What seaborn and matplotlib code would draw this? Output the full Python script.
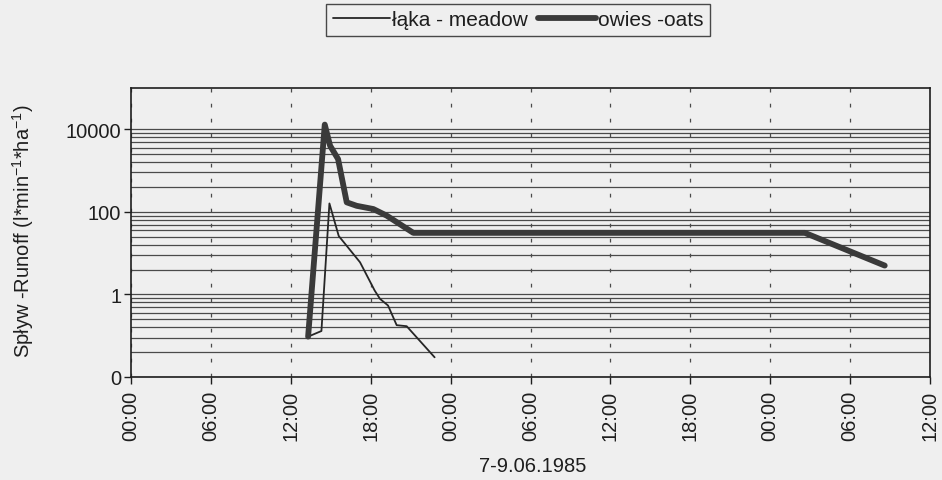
import matplotlib
matplotlib.use("Agg")
import matplotlib.pyplot as plt
import matplotlib.dates as mdates
from matplotlib.ticker import FixedLocator, FixedFormatter, NullFormatter
import numpy as np
import pandas as pd
import seaborn as sns

# Runoff after the storm of 7-9 June 1985 (hours from 7.06 00:00)
meadow_hours = [13.3, 14.3, 14.9, 15.6, 17.2, 18.3, 18.7, 19.3, 19.95, 20.7, 22.8]
meadow_runoff = [0.095, 0.13, 160, 26, 6.0, 1.24, 0.78, 0.54, 0.18, 0.17, 0.03]

oats_hours = [13.3, 14.55, 14.95, 15.55, 15.95, 16.2, 16.95, 18.2, 19.2, 21.2, 50.6, 56.6]
oats_runoff = [0.095, 13000, 4000, 1900, 430, 170, 140, 117, 81, 31, 31, 5.0]

series_labels = ["łąka - meadow", "owies -oats"]
ytick_values = [0.01, 1, 100, 10000]
ytick_labels = ["0", "1", "100", "10000"]
xlabel_text = "7-9.06.1985"
ylabel_text = "Spływ -Runoff (l*min$^{-1}$*ha$^{-1}$)"

start = pd.Timestamp("1985-06-07 00:00")
end = pd.Timestamp("1985-06-09 12:00")

df = pd.concat([
    pd.DataFrame({"time": start + pd.to_timedelta(meadow_hours, unit="h"),
                  "runoff": meadow_runoff, "series": series_labels[0]}),
    pd.DataFrame({"time": start + pd.to_timedelta(oats_hours, unit="h"),
                  "runoff": oats_runoff, "series": series_labels[1]}),
], ignore_index=True)

sns.set_style("ticks")
plt.rcParams["font.family"] = ["Liberation Sans", "DejaVu Sans"]
plt.rcParams["mathtext.default"] = "regular"
plt.rcParams["axes.unicode_minus"] = False

paper = "#efefef"
ink = "#1e1e1e"

fig = plt.figure(figsize=(9.42, 4.81), dpi=100, facecolor=paper)
ax = fig.add_axes([131 / 942, 1 - 378 / 481, (930 - 131) / 942, (378 - 89) / 481])
ax.set_facecolor(paper)

sns.lineplot(data=df[df.series == series_labels[0]], x="time", y="runoff",
             sort=False, estimator=None, color="#262626", lw=1.3, ax=ax,
             label=series_labels[0], legend=False)
sns.lineplot(data=df[df.series == series_labels[1]], x="time", y="runoff",
             sort=False, estimator=None, color="#3a3a3a", lw=4.2, ax=ax,
             label=series_labels[1], legend=False, solid_capstyle="round",
             solid_joinstyle="round")

ax.set_yscale("log")
ax.set_ylim(0.01, 1e5)
ax.set_xlim(start, end)

# log axis with base-100 steps; minor lines at the base-10 pattern inside each step
minor_vals = [v * k ** 2 for v in (0.01, 1, 100) for k in range(2, 10)]
ax.yaxis.set_major_locator(FixedLocator(ytick_values))
ax.yaxis.set_major_formatter(FixedFormatter(ytick_labels))
ax.yaxis.set_minor_locator(FixedLocator(minor_vals))
ax.yaxis.set_minor_formatter(NullFormatter())

ax.xaxis.set_major_locator(mdates.HourLocator(byhour=[0, 6, 12, 18]))
ax.xaxis.set_major_formatter(mdates.DateFormatter("%H:%M"))

ax.grid(axis="y", which="both", color="#4a4a4a", lw=0.9, ls="-")
ax.grid(axis="x", which="major", color="#4a4a4a", lw=0.9, ls=(0, (3, 9)))
ax.set_axisbelow(True)

ax.tick_params(axis="both", which="major", direction="out", length=5, width=1,
               color=ink, labelcolor=ink, labelsize=14.5)
ax.tick_params(axis="y", which="minor", length=0)
ax.tick_params(axis="y", which="major", pad=2)
ax.tick_params(axis="x", labelrotation=90, pad=4)
for s in ax.spines.values():
    s.set_visible(True)
    s.set_color(ink)
    s.set_linewidth(1.2)

ax.set_xlabel("")
ax.set_ylabel(ylabel_text, fontsize=14.5, color=ink)
ax.yaxis.set_label_coords((36 - 131) / 799, (378 - 231) / 289)
fig.text(533 / 942, 1 - 466 / 481, xlabel_text, ha="center", va="center",
         fontsize=14.5, color=ink)

handles, labels = ax.get_legend_handles_labels()
leg = fig.legend(handles, labels, loc="upper center", bbox_to_anchor=(518 / 942, 1 - 5 / 481),
                 ncol=2, frameon=True, fancybox=False, edgecolor=ink, facecolor=paper,
                 fontsize=15, handlelength=2.75, handletextpad=0.1, columnspacing=0.5,
                 borderpad=0.3, borderaxespad=0)
leg.get_frame().set_linewidth(1.0)
for t in leg.get_texts():
    t.set_color(ink)

fig.savefig("out.png", dpi=100, facecolor=paper)
